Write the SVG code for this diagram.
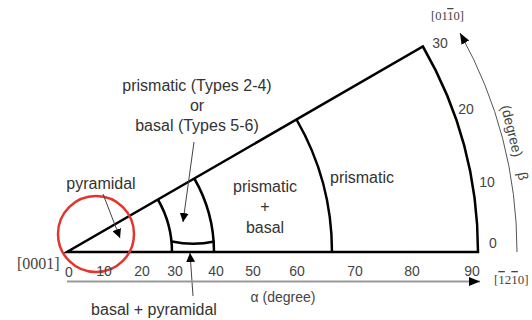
<svg xmlns="http://www.w3.org/2000/svg" width="532" height="320" viewBox="0 0 532 320">
<style>
.lbl{font-family:"Liberation Sans",Arial,sans-serif;font-size:16px;fill:#333;text-anchor:middle}
.tick{font-family:"Liberation Sans",Arial,sans-serif;font-size:14px;fill:#444;text-anchor:middle}
.ser{font-family:"Liberation Serif","Times New Roman",serif;fill:#444}
.bold{fill:none;stroke:#000;stroke-width:2.5}
.ptr{fill:none;stroke:#444;stroke-width:1}
.ov{text-decoration:overline}
</style>
<defs>
<marker id="ah" viewBox="0 0 10 10" refX="10" refY="5" markerWidth="9" markerHeight="9" markerUnits="userSpaceOnUse" orient="auto">
<path d="M0,0 L10,5 L0,10 Z" fill="#000"/>
</marker>
<marker id="ah2" viewBox="0 0 10 10" refX="10" refY="5" markerWidth="11" markerHeight="11" markerUnits="userSpaceOnUse" orient="auto">
<path d="M0,1 L10,5 L0,9 Z" fill="#000"/>
</marker>
</defs>

<g id="wedge">
<path class="bold" d="M67 252 L478 252 A411 411 0 0 0 422.9 46.5 Z"/>
<path class="bold" d="M172 252 A105 105 0 0 0 157.9 199.5"/>
<path class="bold" d="M214 252 A147 147 0 0 0 194.3 178.5"/>
<path class="bold" d="M332 252 A265 265 0 0 0 296.5 119.5"/>
<path class="bold" d="M172 241.5 Q193 246 214.5 241.5" stroke-width="2"/>
</g>

<g id="circle">
<circle cx="96" cy="234" r="38" fill="none" stroke="#e2362d" stroke-width="2.5"/>
</g>

<g id="connectors">
<line class="ptr" x1="103" y1="194" x2="120" y2="238" marker-end="url(#ah)"/>
<line class="ptr" x1="194" y1="142" x2="183" y2="222" marker-end="url(#ah)"/>
<line class="ptr" x1="193" y1="296" x2="190" y2="253" marker-end="url(#ah)"/>
<line x1="67" y1="281.5" x2="480" y2="281.5" stroke="#999" stroke-width="2" marker-end="url(#ah2)"/>
<path d="M517 252 A450 450 0 0 0 460 33" fill="none" stroke="#555" stroke-width="1" marker-end="url(#ah2)"/>
</g>

<g id="labels">
<text class="lbl" x="101" y="189">pyramidal</text>
<text class="lbl" x="197" y="91">prismatic (Types 2-4)</text>
<text class="lbl" x="197" y="111">or</text>
<text class="lbl" x="197" y="131">basal (Types 5-6)</text>
<text class="lbl" x="265" y="192">prismatic</text>
<text class="lbl" x="265" y="212">+</text>
<text class="lbl" x="265" y="233">basal</text>
<text class="lbl" x="362" y="183">prismatic</text>
<text class="lbl" x="154" y="315">basal + pyramidal</text>
<text class="tick" x="283" y="302" font-size="14.5">α (degree)</text>
<text class="tick" font-size="14.5" transform="translate(512 131) rotate(76)" dy="5">(degree)</text>
<text class="tick" font-size="14.5" transform="translate(523 176) rotate(80)" dy="5">β</text>
</g>

<g id="ticks">
<text class="tick" x="69" y="277">0</text>
<text class="tick" x="104" y="276">10</text>
<text class="tick" x="142" y="276">20</text>
<text class="tick" x="175" y="276">30</text>
<text class="tick" x="216" y="276">40</text>
<text class="tick" x="253" y="276">50</text>
<text class="tick" x="297" y="276">60</text>
<text class="tick" x="355" y="276">70</text>
<text class="tick" x="412" y="276">80</text>
<text class="tick" x="472" y="276">90</text>
<text class="tick" x="493" y="248">0</text>
<text class="tick" x="487" y="187">10</text>
<text class="tick" x="466" y="114">20</text>
<text class="tick" x="440" y="48">30</text>
</g>

<g id="directions">
<text class="ser" x="17" y="269" font-size="16">[0001]</text>
<text class="ser" x="431" y="20" font-size="12.5">[01<tspan class="ov">1</tspan>0]</text>
<text class="ser" x="494" y="284" font-size="13">[<tspan class="ov">1</tspan>2<tspan class="ov">1</tspan>0]</text>
</g>
</svg>
